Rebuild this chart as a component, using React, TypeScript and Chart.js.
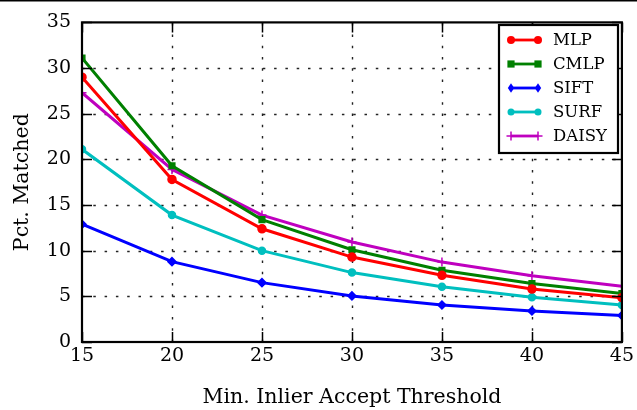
import React, { useEffect, useRef } from "react";
import { Chart, registerables } from "chart.js";

Chart.register(...registerables);

const thresholds = [15, 20, 25, 30, 35, 40, 45];
const mlp = [29.0, 17.8, 12.4, 9.3, 7.3, 5.8, 4.85];
const cmlp = [31.1, 19.3, 13.4, 10.1, 7.85, 6.4, 5.3];
const sift = [12.9, 8.8, 6.5, 5.05, 4.05, 3.4, 2.9];
const surf = [21.1, 13.9, 10.0, 7.6, 6.05, 4.9, 4.05];
const daisy = [27.3, 18.9, 13.9, 10.95, 8.75, 7.25, 6.1];
const seriesNames = ["MLP", "CMLP", "SIFT", "SURF", "DAISY"];
const xTickValues = [15, 20, 25, 30, 35, 40, 45];
const yTickValues = [0, 5, 10, 15, 20, 25, 30, 35];

const FONT = "'DejaVu Serif', serif";

const colors = ["#ff0000", "#008000", "#0000ff", "#00bfbf", "#bf00bf"];
const pointStyles: any[] = ["circle", "rect", "rectRot", "circle", "cross"];
const pointRadii = [4, 4, 4, 3.5, 4.5];

function drawMarker(ctx: CanvasRenderingContext2D, style: string, r: number, x: number, y: number, color: string) {
  ctx.save();
  ctx.fillStyle = color;
  ctx.strokeStyle = color;
  ctx.lineWidth = 1.5;
  ctx.beginPath();
  if (style === "circle") {
    ctx.arc(x, y, r, 0, Math.PI * 2);
    ctx.fill();
  } else if (style === "rect") {
    ctx.rect(x - r * 0.9, y - r * 0.9, r * 1.8, r * 1.8);
    ctx.fill();
  } else if (style === "rectRot") {
    ctx.moveTo(x, y - r * 1.2);
    ctx.lineTo(x + r * 0.8, y);
    ctx.lineTo(x, y + r * 1.2);
    ctx.lineTo(x - r * 0.8, y);
    ctx.closePath();
    ctx.fill();
  } else {
    ctx.moveTo(x - r, y);
    ctx.lineTo(x + r, y);
    ctx.moveTo(x, y - r);
    ctx.lineTo(x, y + r);
    ctx.stroke();
  }
  ctx.restore();
}

const framePlugin = {
  id: "frame",
  beforeDatasetsDraw(chart: any) {
    const { ctx, chartArea: a, scales } = chart;
    const x = scales.x, y = scales.y;
    ctx.save();
    ctx.strokeStyle = "#222";
    ctx.lineWidth = 1.4;
    ctx.setLineDash([2.5, 8.8]);
    xTickValues.slice(1, -1).forEach((v) => {
      const px = Math.round(x.getPixelForValue(v)) + 0.5;
      ctx.beginPath();
      ctx.moveTo(px, a.bottom);
      ctx.lineTo(px, a.top);
      ctx.stroke();
    });
    yTickValues.slice(1, -1).forEach((v) => {
      const py = Math.round(y.getPixelForValue(v)) + 0.5;
      ctx.beginPath();
      ctx.moveTo(a.left, py);
      ctx.lineTo(a.right, py);
      ctx.stroke();
    });
    ctx.restore();
  },
  afterDatasetsDraw(chart: any) {
    const { ctx, chartArea: a, scales } = chart;
    const x = scales.x, y = scales.y;
    ctx.save();
    ctx.strokeStyle = "#000";
    ctx.lineWidth = 1.5;
    const tl = 10;
    xTickValues.forEach((v) => {
      const px = Math.round(x.getPixelForValue(v)) + 0.5;
      ctx.beginPath();
      ctx.moveTo(px, a.bottom);
      ctx.lineTo(px, a.bottom - tl);
      ctx.moveTo(px, a.top);
      ctx.lineTo(px, a.top + tl);
      ctx.stroke();
    });
    yTickValues.forEach((v) => {
      const py = Math.round(y.getPixelForValue(v)) + 0.5;
      ctx.beginPath();
      ctx.moveTo(a.left, py);
      ctx.lineTo(a.left + tl, py);
      ctx.moveTo(a.right, py);
      ctx.lineTo(a.right - tl, py);
      ctx.stroke();
    });
    ctx.lineWidth = 2.2;
    ctx.strokeRect(a.left, a.top, a.right - a.left, a.bottom - a.top);

    // legend
    const lx = 499, ly = 25, lw = 119, lh = 128;
    ctx.fillStyle = "#fff";
    ctx.fillRect(lx, ly, lw, lh);
    ctx.lineWidth = 2.2;
    ctx.strokeStyle = "#000";
    ctx.strokeRect(lx, ly, lw, lh);
    const rowY = [40, 64, 88, 112, 136];
    chart.data.datasets.forEach((ds: any, i: number) => {
      const yy = rowY[i];
      ctx.strokeStyle = ds.borderColor;
      ctx.lineWidth = 2.8;
      ctx.beginPath();
      ctx.moveTo(511, yy);
      ctx.lineTo(538, yy);
      ctx.stroke();
      [511, 538].forEach((mx) => drawMarker(ctx, ds.pointStyle, ds.pointRadius, mx, yy, ds.borderColor));
      ctx.fillStyle = "#000";
      ctx.font = "16.5px " + FONT;
      ctx.textBaseline = "middle";
      ctx.textAlign = "left";
      ctx.fillText(ds.label, 553, yy + 1);
    });

    // top line of the page
    ctx.fillStyle = "#000";
    ctx.fillRect(0, 0, chart.width, 1.5);
    ctx.restore();
  },
};

export default function App() {
  const ref = useRef<HTMLCanvasElement>(null);
  useEffect(() => {
    const prev = document.body.style.margin;
    document.body.style.margin = "0";
    const data = [mlp, cmlp, sift, surf, daisy];
    const chart = new Chart(ref.current as HTMLCanvasElement, {
      type: "line",
      data: {
        datasets: data.map((vals, i) => ({
          label: seriesNames[i],
          data: thresholds.map((t, j) => ({ x: t, y: vals[j] })),
          borderColor: colors[i],
          backgroundColor: colors[i],
          borderWidth: 3,
          pointStyle: pointStyles[i],
          pointRadius: pointRadii[i],
          pointBorderWidth: 1.5,
          tension: 0,
          fill: false,
          clip: 0,
        })),
      },
      options: {
        animation: false,
        responsive: false,
        layout: { padding: { left: 0, right: 13, top: 17, bottom: 0 } },
        plugins: { legend: { display: false }, tooltip: { enabled: false } },
        scales: {
          x: {
            type: "linear",
            min: 15,
            max: 45,
            offset: false,
            grid: { display: false, drawTicks: false },
            border: { display: false },
            afterBuildTicks: (s: any) => {
              s.ticks = xTickValues.map((v) => ({ value: v }));
            },
            afterFit: (s: any) => {
              s.height = 68;
            },
            ticks: {
              color: "#000",
              font: { family: FONT, size: 19 },
              padding: 3,
              maxRotation: 0,
            },
            title: {
              display: true,
              text: "Min. Inlier Accept Threshold",
              color: "#000",
              font: { family: FONT, size: 20.5 },
              padding: { top: 0, bottom: 0 },
            },
          },
          y: {
            type: "linear",
            min: 0,
            max: 35,
            grid: { display: false, drawTicks: false },
            border: { display: false },
            afterBuildTicks: (s: any) => {
              s.ticks = yTickValues.map((v) => ({ value: v }));
            },
            afterFit: (s: any) => {
              s.width = 82;
            },
            ticks: {
              color: "#000",
              font: { family: FONT, size: 19 },
              padding: 11,
            },
            title: {
              display: true,
              text: "Pct. Matched",
              color: "#000",
              font: { family: FONT, size: 20.5 },
              padding: { top: 10, bottom: 0 },
            },
          },
        },
      },
      plugins: [framePlugin],
    });
    return () => {
      chart.destroy();
      document.body.style.margin = prev;
    };
  }, []);
  return (
    <div style={{ width: 637, height: 410 }}>
      <canvas ref={ref} width={637} height={410} style={{ display: "block" }} />
    </div>
  );
}
